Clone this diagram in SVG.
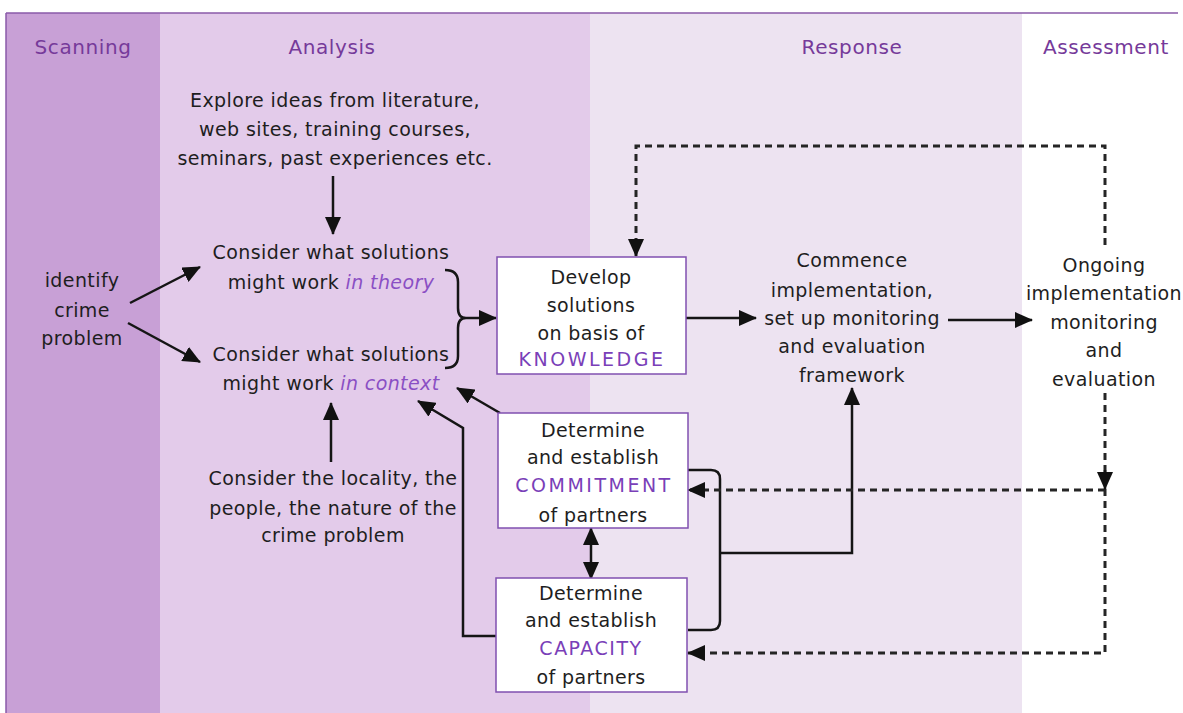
<svg xmlns="http://www.w3.org/2000/svg" width="1183" height="713" viewBox="0 0 1183 713">
<style>
text{font-family:"DejaVu Sans","Liberation Sans",sans-serif;font-size:19px;fill:#1e1e1e;text-anchor:middle;letter-spacing:0.4px}
.hd{font-size:20px;fill:#763a9a;letter-spacing:0.6px}
.kw{fill:#7a3fb8}
.it{fill:#8a4fc4;font-style:italic}
.cap{fill:#7a3fb8;letter-spacing:2.5px}
.box{fill:#fff;stroke:#8050b0;stroke-width:1.5}
.ln{fill:none;stroke:#151515;stroke-width:2.5}
.dl{fill:none;stroke:#252525;stroke-width:3;stroke-dasharray:7 5}
</style>
<defs>
<marker id="ah" markerUnits="userSpaceOnUse" markerWidth="18" markerHeight="16" viewBox="0 0 18 16" refX="17" refY="8" orient="auto-start-reverse">
<path d="M0,0 L18,8 L0,16 z" fill="#111"/>
</marker>
</defs>
<g id="background">
<rect x="6" y="13" width="154" height="700" fill="#c8a0d6"/>
<rect x="160" y="13" width="430" height="700" fill="#e3cbea"/>
<rect x="590" y="13" width="432" height="700" fill="#ede3f1"/>
<line x1="6" y1="13" x2="1178" y2="13" stroke="#8a5aa8" stroke-width="1.5"/>
<line x1="6" y1="13" x2="6" y2="713" stroke="#8a5aa8" stroke-width="1.5"/>
</g>
<g id="headers">
<text class="hd" x="83" y="54">Scanning</text>
<text class="hd" x="332" y="54">Analysis</text>
<text class="hd" x="852" y="54">Response</text>
<text class="hd" x="1106" y="54">Assessment</text>
</g>
<g id="connectors">
<line class="ln" x1="333" y1="176" x2="333" y2="234" marker-end="url(#ah)"/>
<line class="ln" x1="130" y1="303" x2="200" y2="267" marker-end="url(#ah)"/>
<line class="ln" x1="128" y1="323" x2="200" y2="362" marker-end="url(#ah)"/>
<path class="ln" d="M445,270 Q458,270 458,282 V308 Q458,318 466,318 Q458,318 458,328 V356 Q458,368 445,368"/>
<line class="ln" x1="466" y1="318" x2="496" y2="318" marker-end="url(#ah)"/>
<line class="ln" x1="331" y1="462" x2="331" y2="403" marker-end="url(#ah)"/>
<line class="ln" x1="500" y1="413" x2="457" y2="388" marker-end="url(#ah)"/>
<path class="ln" d="M497,636 H463 V428 L418,401" marker-end="url(#ah)"/>
<line class="ln" x1="591" y1="528" x2="591" y2="579" marker-start="url(#ah)" marker-end="url(#ah)"/>
<line class="ln" x1="686" y1="318" x2="756" y2="318" marker-end="url(#ah)"/>
<line class="ln" x1="948" y1="320" x2="1032" y2="320" marker-end="url(#ah)"/>
<path class="ln" d="M688,470 H711 Q720,470 720,479 V621 Q720,630 711,630 H688"/>
<path class="ln" d="M720,553 H852 V388" marker-end="url(#ah)"/>
<path class="dl" d="M1105,245 V146 H636 V256" marker-end="url(#ah)"/>
<path class="dl" d="M1105,393 V653 H688" marker-end="url(#ah)"/>
<path class="dl" d="M1105,490 H688" marker-end="url(#ah)"/>
<line class="ln" x1="1105" y1="470" x2="1105" y2="489" marker-end="url(#ah)"/>
</g>
<g id="explore">
<text x="335" y="107">Explore ideas from literature,</text>
<text x="335" y="136">web sites, training courses,</text>
<text x="335" y="165">seminars, past experiences etc.</text>
</g>
<g id="identify">
<text x="82" y="287">identify</text>
<text x="82" y="317">crime</text>
<text x="82" y="345">problem</text>
</g>
<g id="theory">
<text x="331" y="259">Consider what solutions</text>
<text x="331" y="289">might work <tspan class="it">in theory</tspan></text>
</g>
<g id="context">
<text x="331" y="361">Consider what solutions</text>
<text x="331" y="390">might work <tspan class="it">in context</tspan></text>
</g>
<g id="locality">
<text x="333" y="485">Consider the locality, the</text>
<text x="333" y="515">people, the nature of the</text>
<text x="333" y="542">crime problem</text>
</g>
<g id="knowledge">
<rect class="box" x="497" y="257" width="189" height="117"/>
<text x="591" y="284">Develop</text>
<text x="591" y="312">solutions</text>
<text x="591" y="340">on basis of</text>
<text class="cap" x="592" y="366">KNOWLEDGE</text>
</g>
<g id="commitment">
<rect class="box" x="498" y="413" width="190" height="115"/>
<text x="593" y="437">Determine</text>
<text x="593" y="464">and establish</text>
<text class="cap" x="594" y="492">COMMITMENT</text>
<text x="593" y="522">of partners</text>
</g>
<g id="capacity">
<rect class="box" x="496" y="578" width="191" height="114"/>
<text x="591" y="600">Determine</text>
<text x="591" y="627">and establish</text>
<text class="cap" x="591" y="655" style="letter-spacing:1.5px">CAPACITY</text>
<text x="591" y="684">of partners</text>
</g>
<g id="commence">
<text x="852" y="267">Commence</text>
<text x="852" y="297">implementation,</text>
<text x="852" y="325">set up monitoring</text>
<text x="852" y="353">and evaluation</text>
<text x="852" y="382">framework</text>
</g>
<g id="ongoing">
<text x="1104" y="272">Ongoing</text>
<text x="1104" y="300">implementation</text>
<text x="1104" y="329">monitoring</text>
<text x="1104" y="357">and</text>
<text x="1104" y="386">evaluation</text>
</g>
</svg>
